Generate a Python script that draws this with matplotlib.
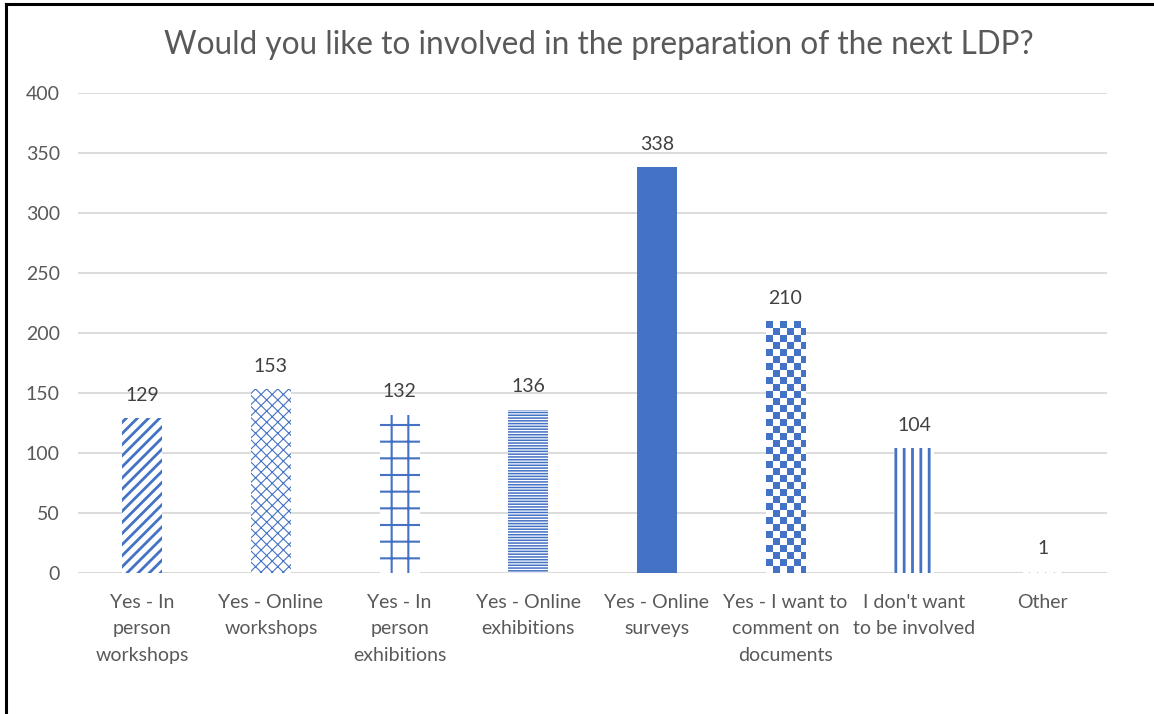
import numpy as np
import matplotlib.pyplot as plt
from matplotlib.lines import Line2D
from matplotlib.colors import ListedColormap

categories = ["Yes - In\nperson\nworkshops", "Yes - Online\nworkshops", "Yes - In\nperson\nexhibitions",
              "Yes - Online\nexhibitions", "Yes - Online\nsurveys", "Yes - I want to\ncomment on\ndocuments",
              "I don't want\nto be involved", "Other"]
counts = [129, 153, 132, 136, 338, 210, 104, 1]

# hatch per bar ("" = solid, None = checkerboard) and hatch line width (pt)
hatches = ["///", "xxx", "+", "------", "", None, "||", "||"]
hatch_lw = [2.0, 0.8, 1.5, 1.1, 1.0, 1.0, 2.0, 0.3]

blue = "#4472C4"
grey_text = "#595959"
grid_col = "#D9D9D9"

plt.rcParams['font.family'] = ['Lato', 'DejaVu Sans']

fig = plt.figure(figsize=(11.54, 7.14), dpi=100)
ax = fig.add_axes([0.0676, 0.1975, 0.8917, 0.6722])

x = np.arange(len(categories))
width = 0.31
for i in range(len(categories)):
    h = hatches[i]
    if h is None:
        # checkerboard fill, clipped to the bar
        bar = ax.bar(x[i], counts[i], width, color="white", edgecolor="none", zorder=2)[0]
        cell = 7 / 1.2
        ncols = int(np.ceil(40 / 7))
        nrows = int(np.ceil(counts[i] / cell))
        board = (np.indices((nrows, ncols)).sum(axis=0) % 2).astype(float)
        im = ax.imshow(board, cmap=ListedColormap(["white", blue]), aspect="auto",
                       extent=(x[i] - width / 2, x[i] - width / 2 + ncols * width / (40 / 7),
                               0, nrows * cell), origin="lower", interpolation="nearest", zorder=2)
        im.set_clip_path(bar)
    elif h == "":
        ax.bar(x[i], counts[i], width, color=blue, edgecolor="none", zorder=2)
    else:
        bar = ax.bar(x[i], counts[i], width, color="white", edgecolor=blue, linewidth=0,
                     hatch=h, zorder=2)[0]
        if hasattr(bar, "set_hatch_linewidth"):
            bar.set_hatch_linewidth(hatch_lw[i])
    ax.text(x[i], counts[i] + 12, str(counts[i]), ha="center", va="bottom",
            fontsize=14, color="#404040")

ax.set_xlim(-0.5, len(categories) - 0.5)
ax.set_ylim(0, 400)
ax.set_yticks(range(0, 401, 50))
ax.yaxis.grid(True, color=grid_col, linewidth=1.3, zorder=0)
ax.set_axisbelow(True)
for s in ax.spines.values():
    s.set_visible(False)
ax.axhline(0, color=grid_col, linewidth=1.5, zorder=1)
ax.tick_params(axis="both", length=0, labelsize=14, colors=grey_text)
ax.tick_params(axis="y", pad=13)
ax.tick_params(axis="x", pad=15)
ax.set_xticks(x)
ax.set_xticklabels(categories, linespacing=1.68)

fig.text(0.519, 0.937, "Would you like to involved in the preparation of the next LDP?",
         ha="center", va="center", fontsize=22.7, color=grey_text)

# outer frame (left and top edges)
fig.add_artist(Line2D([6 / 1154, 6 / 1154], [0, 1 - 4 / 714], color="black", linewidth=2.2))
fig.add_artist(Line2D([6 / 1154, 1], [1 - 4 / 714, 1 - 4 / 714], color="black", linewidth=2.2))

fig.savefig("out.png", dpi=100)
